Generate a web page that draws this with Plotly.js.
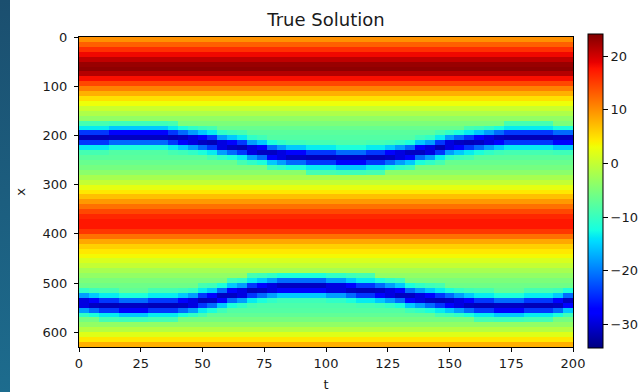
<!DOCTYPE html>
<html>
<head>
<meta charset="utf-8">
<script src="https://cdn.plot.ly/plotly-3.0.1.min.js"></script>
<style>
  html, body { margin: 0; padding: 0; background: #ffffff; }
  #wrap { position: relative; width: 643px; height: 392px; overflow: hidden; }
  #edge { position: absolute; left: 0; top: 0; width: 10px; height: 392px;
          background: linear-gradient(#1b4f6f, #1d6c8e); z-index: 5; }
  #chart { position: absolute; left: 0; top: 0; width: 643px; height: 392px; }
</style>
</head>
<body>
<div id="wrap"><div id="edge"></div><div id="chart"></div></div>
<script>
// Background profile u(x) per row of 10 units (rows centred at x = 5, 15, ..., 625)
const bgProfile = [
  10, 13, 16, 18.5, 21, 23, 23.5, 21.5, 18, 14.5,
  11, 8, 5, 3, 0.5, -1.5, -3.5, -5, -6.5, -7.5,
  -8, -8.5, -8.5, -8, -7.5, -6.5, -5.5, -4, -2, 0,
  2.5, 4.5, 7, 9.5, 12, 14.5, 16.5, 17.5, 17.5, 15.5,
  12, 8.5, 6, 4.5, 3.5, 1.5, 0, -2, -3.5, -5,
  -6, -7, -8, -8.5, -8.5, -8, -7, -5.5, -3.5, -1,
  2, 4.5, 8
];

// Centre of each trough (in x) for every time column (columns centred at t = 2, 6, ..., 198)
const upperTrack = [
  205, 205, 205, 202.5, 202.5, 202.5, 202.5, 202.5, 202.5, 205,
  207.5, 210, 212.5, 215, 220, 222.5, 225, 230, 232.5, 237.5,
  240, 242.5, 242.5, 245, 245, 245, 247.5, 247.5, 247.5, 245,
  245, 242.5, 240, 237.5, 232.5, 230, 225, 220, 217.5, 215,
  212.5, 210, 207.5, 205, 205, 205, 205, 205, 207.5, 207.5
];
const lowerTrack = [
  540, 542.5, 545, 545, 547.5, 547.5, 547.5, 545, 545, 545,
  542.5, 540, 535, 532.5, 527.5, 522.5, 520, 515, 512.5, 510,
  507.5, 507.5, 507.5, 507.5, 507.5, 510, 510, 512.5, 515, 515,
  517.5, 520, 522.5, 527.5, 530, 532.5, 535, 537.5, 540, 542.5,
  545, 545, 547.5, 547.5, 547.5, 545, 545, 545, 542.5, 537.5
];

// Trough cross-section: value at distance 0, 2.5, 5, ..., 30 from the trough centre
const troughShape = [-31.5, -31, -29.5, -27, -24, -21, -18, -15.5, -13.5, -12, -10.5, -9.5, -9];

// Tick values
const cbTicks = [-30, -20, -10, 0, 10, 20];
const xTicks = [0, 25, 50, 75, 100, 125, 150, 175, 200];
const yTicks = [0, 100, 200, 300, 400, 500, 600];

// Grid cell centres
const rowStep = 10, colStep = 4, shapeStep = 2.5;
const xCenters = bgProfile.map((_, i) => rowStep * i + rowStep / 2);
const tCenters = upperTrack.map((_, j) => colStep * j + colStep / 2);

// Field z[row][col]: background, cut down by the two troughs
const z = xCenters.map((xv, i) => tCenters.map((_, j) => {
  let v = bgProfile[i];
  [upperTrack[j], lowerTrack[j]].forEach(c => {
    const k = Math.round(Math.abs(xv - c) / shapeStep);
    if (k < troughShape.length) v = Math.min(v, troughShape[k]);
  });
  return v;
}));

// matplotlib "jet" segment data -> Plotly colorscale
const jetSeg = {
  r: [[0, 0], [0.35, 0], [0.66, 1], [0.89, 1], [1, 0.5]],
  g: [[0, 0], [0.125, 0], [0.375, 1], [0.64, 1], [0.91, 0], [1, 0]],
  b: [[0, 0.5], [0.11, 1], [0.34, 1], [0.65, 0], [1, 0]]
};
function segAt(seg, s) {
  for (let i = 1; i < seg.length; i++) {
    if (s <= seg[i][0]) {
      const [s0, v0] = seg[i - 1], [s1, v1] = seg[i];
      return v0 + (v1 - v0) * (s - s0) / (s1 - s0);
    }
  }
  return seg[seg.length - 1][1];
}
const stops = [0, 0.11, 0.125, 0.2, 0.34, 0.35, 0.375, 0.5, 0.64, 0.65, 0.66, 0.75, 0.89, 0.91, 1];
const jet = stops.map(s => {
  const c = ['r', 'g', 'b'].map(k => Math.round(255 * segAt(jetSeg[k], s)));
  return [s, `rgb(${c[0]},${c[1]},${c[2]})`];
});

const font = { family: 'DejaVu Sans, sans-serif', size: 13, color: '#1a1a1a' };

const trace = {
  type: 'heatmap',
  x: tCenters,
  y: xCenters,
  z: z,
  zsmooth: false,
  colorscale: jet,
  zmin: -34.4,
  zmax: 24.2,
  hoverinfo: 'skip',
  colorbar: {
    x: 1.0304, xanchor: 'left', xpad: 0,
    y: 0.504, yanchor: 'middle', ypad: 0,
    lenmode: 'pixels', len: 314,
    thicknessmode: 'pixels', thickness: 15,
    outlinewidth: 1, outlinecolor: '#000',
    tickmode: 'array', tickvals: cbTicks,
    ticks: 'outside', ticklen: 5, tickwidth: 1, tickcolor: '#000',
    tickfont: font
  }
};

const axisBase = {
  ticks: 'outside', ticklen: 4, tickwidth: 1, tickcolor: '#000',
  showline: true, mirror: true, linecolor: '#000', linewidth: 1,
  showgrid: false, zeroline: false, tickfont: font, tickmode: 'array'
};

const layout = {
  width: 643, height: 392,
  margin: { l: 79, r: 70, t: 37, b: 45, autoexpand: false },
  paper_bgcolor: '#ffffff', plot_bgcolor: '#ffffff',
  font: font,
  title: { text: 'True Solution', font: { family: 'DejaVu Sans, sans-serif', size: 18, color: '#1a1a1a' },
           x: 0.5, xref: 'paper', xanchor: 'center', y: 1, yref: 'paper', yanchor: 'bottom', pad: { b: 11 } },
  xaxis: Object.assign({}, axisBase, {
    range: [0, 200], tickvals: xTicks,
    title: { text: 't', font: font, standoff: 10 }
  }),
  yaxis: Object.assign({}, axisBase, {
    range: [630, 0], tickvals: yTicks, ticklabelstandoff: 4,
    title: { text: 'x', font: font, standoff: 14 }
  })
};

Plotly.newPlot('chart', [trace], layout, { displayModeBar: false, staticPlot: true });
</script>
</body>
</html>
